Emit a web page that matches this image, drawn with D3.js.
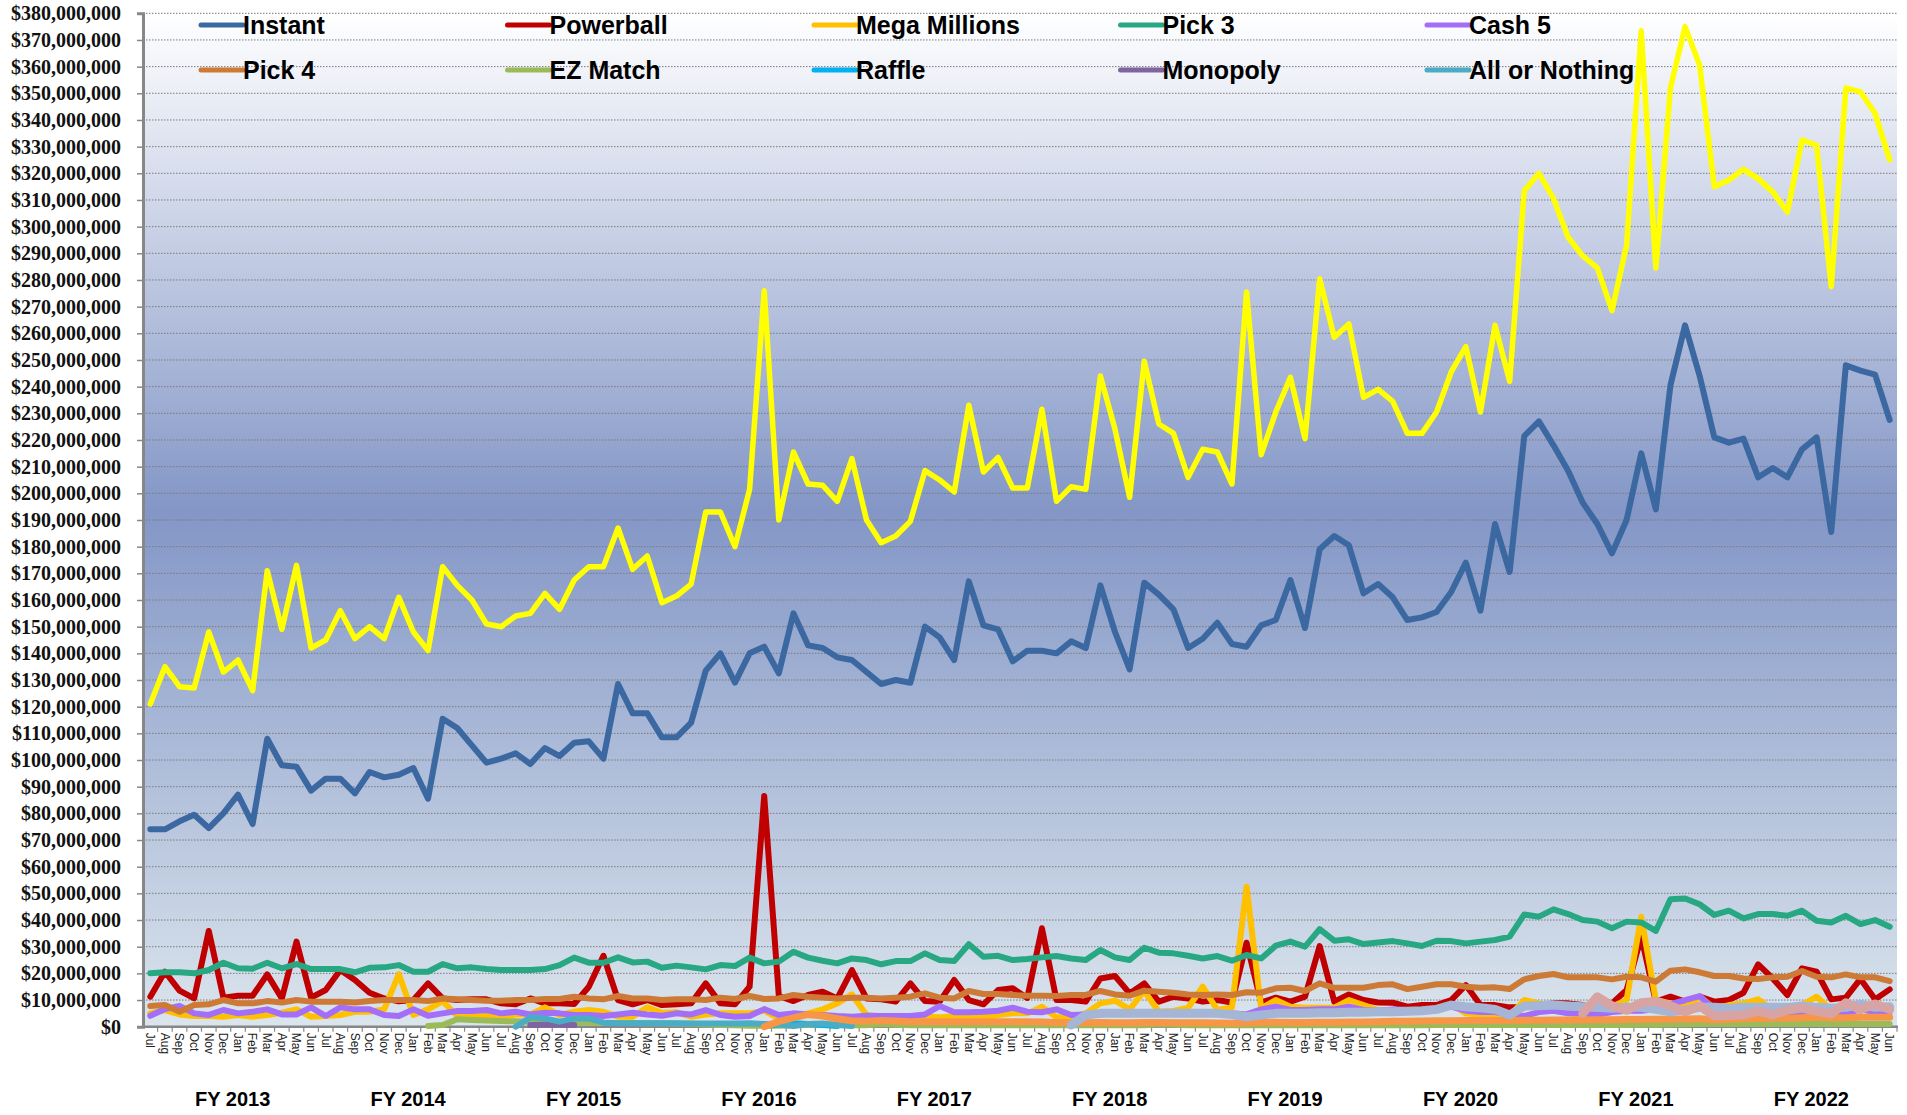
<!DOCTYPE html>
<html>
<head>
<meta charset="utf-8">
<script src="https://cdn.jsdelivr.net/npm/d3@7"></script>
<style>
  body { margin: 0; background: #fff; }
  svg { display: block; }
</style>
</head>
<body>
<script>
// --- data (values in $ millions, Jul..Jun per fiscal year) ---
var monthNames = ["Jul", "Aug", "Sep", "Oct", "Nov", "Dec", "Jan", "Feb", "Mar", "Apr", "May", "Jun"];
var fiscalYears = ["FY 2013", "FY 2014", "FY 2015", "FY 2016", "FY 2017", "FY 2018", "FY 2019", "FY 2020", "FY 2021", "FY 2022"];
var yTicks = d3.range(0, 381, 10);

var instant = [
  74, 74, 77, 79.5, 74.5, 80, 87, 76, 108, 98, 97.5, 88.5,
  93, 93, 87.5, 95.5, 93.5, 94.5, 97, 85.5, 115.5, 112, 105.5, 99,
  100.5, 102.5, 98.5, 104.5, 101.5, 106.5, 107, 100.5, 128.5, 117.5, 117.5, 108.5,
  108.5, 114, 133.5, 140, 129, 140, 142.5, 132.5, 155, 143, 142, 138.5,
  137.5, 133, 128.5, 130, 129, 150, 146, 137.5, 167, 150.5, 149, 137,
  141, 141, 140, 144.5, 142, 165.5, 148, 134, 166.5, 162, 156.5, 142,
  145.5, 151.5, 143.5, 142.5, 150.5, 152.5, 167.5, 149.5, 179, 184, 180.5, 162.5,
  166, 161, 152.5, 153.5, 155.5, 163, 174, 156, 188.5, 170.5, 221.5, 227,
  218, 208.5, 196.5, 188.5, 177.5, 190, 215, 194, 240.5, 263, 244, 221,
  219, 220.5, 206, 209.5, 206, 216.5, 221, 185.5, 248, 246, 244.5, 227.5
];
var powerball = [
  11.25, 20.6, 13.5, 10.6, 35.9, 10.9, 11.6, 11.6, 19.6, 10.6, 31.9, 10.9,
  13.75, 21.25, 17.5, 12.75, 10.6, 9.5, 10, 16.25, 10.6, 10, 10.25, 10.25,
  8.75, 8.4, 10.6, 8.75, 8.75, 8.5, 15, 26.6, 10, 8.4, 10, 8.1,
  8.4, 8.75, 16.25, 8.75, 8.4, 15, 86.5, 11.5, 9.6, 11.9, 13.1, 10.6,
  21.25, 10.6, 10.25, 9.4, 16.25, 9.6, 9.4, 17.5, 10, 8.4, 13.75, 14.4,
  10.8, 36.9, 10, 10, 9.4, 18.1, 19, 12.5, 16.25, 9.4, 11.25, 10.6,
  9.4, 10, 9.1, 31.5, 9, 10.9, 9.4, 11.25, 30.25, 9.4, 12.1, 10,
  9.1, 9, 7.5, 8.1, 8.1, 10, 15.6, 8.1, 8.1, 7.25, 7.25, 8.1,
  8.75, 8.75, 8.1, 6.9, 8.75, 13.75, 33.75, 9.4, 11.25, 9.4, 11.25, 9.4,
  10, 12.75, 23.4, 18.1, 11.9, 21.9, 20.6, 10.25, 10.9, 17.9, 10.25, 14
];
var megaMillions = [
  5, 6.25, 4.6, 4, 4, 3.75, 4.4, 3.75, 4.4, 5.25, 6.5, 3.75,
  4, 4.4, 5.6, 5.6, 6.5, 19.75, 4.4, 6.5, 9.6, 4, 4, 4,
  3.75, 4.6, 4.6, 7.25, 4.4, 5.6, 6.25, 5.6, 3.75, 3.75, 7.25, 5.25,
  5.4, 3.75, 4.6, 5, 5, 5, 6, 3.1, 4, 5, 6.5, 8.75,
  12.1, 4.4, 3.75, 3.75, 3.75, 3.75, 3.5, 4, 4, 3.75, 4.4, 5,
  5, 7.5, 3.5, 3.5, 5, 8.75, 9.75, 6.5, 13.4, 5.6, 5.9, 7.1,
  15, 6.25, 7.25, 52.5, 6.9, 10, 7.5, 7.1, 7.1, 7.1, 10, 8.1,
  6.25, 6.25, 5.9, 6.25, 6.9, 8.4, 5, 4.5, 4.5, 4, 10, 8.75,
  8.1, 5, 4.6, 5.6, 7.5, 10, 41.25, 10, 8.75, 7.5, 11.25, 6.9,
  8.1, 8.75, 10.25, 6.25, 6.25, 8.1, 11.25, 6.25, 5.6, 6.9, 6.25, 6.25
];
var pick3 = [
  20, 20.4, 20.4, 20, 21.25, 24, 21.9, 21.75, 24, 21.9, 23.5, 21.6,
  21.6, 21.6, 20.4, 22.1, 22.25, 23.1, 20.6, 20.6, 23.5, 21.9, 22.25, 21.6,
  21.25, 21.25, 21.25, 21.6, 23.1, 25.9, 24, 24, 26, 24.1, 24.4, 22.1,
  22.9, 22.25, 21.5, 23.1, 22.75, 25.9, 23.75, 24.4, 28.1, 25.9, 24.75, 23.75,
  25.6, 25, 23.4, 24.6, 24.6, 27.5, 25, 24.6, 30.9, 26.25, 26.6, 25,
  25.4, 26, 26.5, 25.6, 25, 28.75, 26, 25, 29.6, 27.75, 27.5, 26.6,
  25.6, 26.5, 24.75, 26.9, 25.6, 30.4, 31.9, 30, 36.6, 32.25, 32.75, 31,
  31.6, 32.1, 31.25, 30.25, 32.25, 32.1, 31.25, 31.9, 32.5, 33.75, 42.1, 41.25,
  44, 42.25, 40, 39.4, 36.9, 39.4, 39.1, 35.9, 47.75, 48.1, 45.9, 41.9,
  43.5, 40.6, 42.25, 42.25, 41.6, 43.5, 39.75, 39.1, 41.6, 38.5, 40, 37.5
];
var cash5 = [
  4.1, 6.6, 7.75, 5, 4.4, 6.25, 5, 5.6, 6.5, 4.6, 4.6, 7.25,
  4, 7.25, 6.5, 6.5, 4.4, 4, 6.5, 4.1, 5, 5.9, 5.9, 6.25,
  5, 5.6, 4.6, 5.25, 5, 4.4, 4.4, 4, 4.6, 5.25, 4.6, 4.1,
  5, 4.6, 6.25, 4.4, 3.75, 4, 6.6, 4.4, 5, 4.6, 4.4, 4,
  3.75, 4.1, 4, 4, 4, 4.6, 7.75, 5.4, 5.4, 5.6, 6, 7.1,
  5.6, 5.4, 6.5, 4.4, 4.6, 4.6, 5, 5, 5.2, 5, 5, 5.2,
  5, 5, 5, 4.6, 6.5, 7.5, 6.25, 6.25, 6.5, 6.5, 7.5, 6.25,
  6, 6.5, 6.25, 6, 6.9, 7.5, 6, 5.5, 5.5, 4.5, 4, 5.5,
  6, 5, 5, 4.5, 5.5, 6, 6, 6.5, 8.5, 10, 11.5, 6.5,
  6, 5.5, 5.5, 5.5, 5.5, 5.5, 5.5, 6, 5, 6.5, 5.5, 5.5
];
var pick4 = [
  7.75, 8.1, 5.6, 8.1, 8.4, 10, 8.75, 8.75, 9.6, 9.1, 10, 9.4,
  9.4, 9.4, 9.1, 9.6, 10, 10, 10, 9.6, 10.6, 10.25, 10, 9.75,
  9.75, 10, 10, 10.4, 10.4, 11.25, 10.6, 10.25, 11.5, 10.6, 10.6, 10,
  10.25, 10.25, 10, 10.9, 10.4, 11.5, 10.4, 10.6, 11.9, 11.25, 10.9, 10.6,
  10.9, 10.9, 10.6, 10.9, 11.25, 12.5, 10.9, 10.6, 13.4, 12.25, 12.25, 11.9,
  11.6, 11.6, 11.5, 11.9, 11.9, 13.4, 12.1, 11.6, 13.5, 13.1, 12.75, 12.1,
  11.9, 12.1, 11.9, 12.9, 12.75, 14.4, 14.6, 13.4, 16.25, 14.6, 14.6, 14.6,
  15.6, 15.9, 14.1, 15, 15.9, 15.9, 15, 14.6, 14.75, 14.1, 17.75, 19,
  19.75, 18.5, 18.5, 18.5, 17.75, 18.75, 18.5, 16.9, 21, 21.5, 20.4, 19,
  19, 18.1, 17.9, 18.5, 18.75, 20.9, 18.75, 18.5, 19.6, 18.5, 18.5, 17.1
];
var ezMatch = [
  null, null, null, null, null, null, null, null, null, null, null, null,
  null, null, null, null, null, null, null, 0.3, 0.6, 2.8, 2.5, 2.3,
  2.1, 2.0, 1.9, 1.8, 1.7, 1.6, 1.5, 1.5, 1.4, 1.4, 1.3, 1.3,
  1.2, 1.1, 0.8, 0.6, 0.5, 0.4, 0.4, 0.4, 0.5, 0.6, 0.7, 0.6,
  0.5, 0.5, 1.0, 0.7, 0.5, 0.5, 0.5, 0.5, 0.5, 0.5, 0.5, 0.5,
  0.5, 0.5, 0.5, 0.5, 0.5, 0.5, 0.5, 0.5, 0.5, 0.9, 0.7, 0.5,
  0.5, 0.5, 0.5, 0.5, 0.5, 0.5, 0.5, 0.5, 0.5, 0.5, 0.5, 0.5,
  0.5, 0.5, 0.5, 0.5, 0.6, 0.6, 0.6, 0.6, 0.6, 0.6, 0.6, 0.6,
  0.6, 0.6, 0.6, 0.6, 0.6, 0.6, 0.7, 0.7, 0.8, 0.9, 1.0, 1.0,
  1.0, 1.0, 1.0, 1.0, 1.0, 1.0, 1.0, 1.0, 1.0, 1.0, 1.0, 1.0
];
var raffle = [
  null, null, null, null, null, null, null, null, null, null, null, null,
  null, null, null, null, null, null, null, null, null, null, null, null,
  null, null, null, null, null, null, null, null, null, null, null, null,
  null, null, null, null, null, null, 0.3, 1.0, 1.3, 1.0, 0.6, 0.3,
  null, null, null, null, null, null, null, null, null, null, null, null,
  null, null, null, null, null, null, null, null, null, null, null, null,
  null, null, null, null, null, null, null, null, null, null, null, null,
  null, null, null, null, null, null, null, null, null, null, null, null,
  null, null, null, null, null, null, null, null, null, null, null, null,
  null, null, null, null, null, null, null, null, null, null, null, null
];
var monopoly = [
  null, null, null, null, null, null, null, null, null, null, null, null,
  null, null, null, null, null, null, null, null, null, null, null, null,
  null, null, 0.6, 0.7, 0.7, 0.6, null, null, null, null, null, null,
  null, null, null, null, null, null, null, null, null, null, null, null,
  null, null, null, null, null, null, null, null, null, null, null, null,
  null, null, null, null, null, null, null, null, null, null, null, null,
  null, null, null, null, null, null, null, null, null, null, null, null,
  null, null, null, null, null, null, null, null, null, null, null, null,
  null, null, null, null, null, null, null, null, null, null, null, null,
  null, null, null, null, null, null, null, null, null, null, null, null
];
var allOrNothing = [
  null, null, null, null, null, null, null, null, null, null, null, null,
  null, null, null, null, null, null, null, null, null, null, null, null,
  null, 0, 3.5, 3.1, 1.9, 3.1, 3.1, 1.5, 1.3, 1.3, 1.3, 1.3,
  1.3, 1.2, 1.2, 1.2, 1.2, 1.3, 1.0, 0.8, 0.3, 1.0, 1.2, 0.6,
  0.3, null, null, null, null, null, null, null, null, null, null, null,
  null, null, null, null, null, null, null, null, null, null, null, null,
  null, null, null, null, null, null, null, null, null, null, null, null,
  null, null, null, null, null, null, null, null, null, null, null, null,
  null, null, null, null, null, null, null, null, null, null, null, null,
  null, null, null, null, null, null, null, null, null, null, null, null
];
// series plotted without a legend entry
var otherA = [
  null, null, null, null, null, null, null, null, null, null, null, null,
  null, null, null, null, null, null, null, null, null, null, null, null,
  null, null, null, null, null, null, null, null, null, null, null, null,
  null, null, null, null, null, null, 0, 2.0, 3.3, 4.6, 4.0, 3.0,
  2.2, 2.0, 2.3, 2.1, 1.9, 1.9, 1.9, 1.9, 1.9, 1.9, 1.9, 1.9,
  1.9, 1.8, 1.6, 1.5, 1.5, 1.6, 1.5, 1.5, 1.6, 1.6, 1.5, 1.5,
  1.5, 1.4, 1.3, 1.5, 1.6, 1.7, 1.6, 1.6, 1.7, 1.7, 1.8, 1.8,
  1.9, 2.0, 2.0, 2.1, 2.2, 2.2, 2.3, 2.3, 2.3, 2.3, 2.4, 2.4,
  2.5, 2.5, 2.5, 2.6, 2.6, 2.7, 2.7, 2.8, 2.8, 2.9, 3.0, 2.5,
  2.8, 3.0, 3.1, 3.2, 3.2, 3.4, 3.5, 3.3, 3.4, 3.5, 3.5, 3.5
];
var otherB = [
  null, null, null, null, null, null, null, null, null, null, null, null,
  null, null, null, null, null, null, null, null, null, null, null, null,
  null, null, null, null, null, null, null, null, null, null, null, null,
  null, null, null, null, null, null, null, null, null, null, null, null,
  null, null, null, null, null, null, null, null, null, null, null, null,
  null, null, null, 0.6, 4.4, 5, 5, 5, 5, 5, 5, 5,
  5, 5, 4.6, 3.75, 4.4, 5, 5, 5, 5.2, 5.2, 5.4, 5.4,
  5.6, 5.6, 5.8, 6.0, 6.5, 8.1, 7.5, 7.1, 6.5, 4.4, 7.75, 7.9,
  8.1, 7.75, 7.5, 7.25, 6.9, 7.25, 7.25, 6.5, 5.6, 6.25, 7.25, 7.25,
  6.9, 7.25, 7.25, 7.25, 7.25, 7.75, 7.25, 6.9, 7.25, 8.4, 7.25, 7.5
];
var otherC = [
  null, null, null, null, null, null, null, null, null, null, null, null,
  null, null, null, null, null, null, null, null, null, null, null, null,
  null, null, null, null, null, null, null, null, null, null, null, null,
  null, null, null, null, null, null, null, null, null, null, null, null,
  null, null, null, null, null, null, null, null, null, null, null, null,
  null, null, null, null, null, null, null, null, null, null, null, null,
  null, null, null, null, null, null, null, null, null, null, null, null,
  null, null, null, null, null, null, null, null, null, null, null, null,
  null, null, 5, 11.2, 7.8, 6.2, 9, 9.5, 7.8, 5.6, 7.8, 4,
  4.2, 4.4, 5.8, 4.4, 6.2, 7, 5.8, 4.8, 9, 6.4, 8.5, 6.5
];
var total = [
  121, 135, 127.5, 127, 148, 133, 137.5, 126, 171, 149, 173, 142,
  145, 156, 145.5, 150, 145.5, 161, 148, 141, 172.5, 165.5, 160, 151,
  150, 154, 155, 162.5, 156.5, 167.5, 172.5, 172.5, 187, 171.5, 176.5, 159,
  161.5, 166, 193, 193, 180, 201.5, 276, 190, 215.5, 203.5, 203, 197,
  213, 190, 181.5, 184, 189.5, 208.5, 205, 200.5, 233, 208, 213.5, 202,
  202, 231.5, 197, 202.5, 201.5, 244, 224, 198.5, 249.5, 226, 222.5, 206,
  216.5, 215.5, 203.5, 275.5, 214.5, 230.5, 243.5, 220.5, 280.5, 258.5, 263.5, 236,
  239, 234.5, 222.5, 222.5, 230.5, 245.5, 255, 230.5, 263, 242, 313.5, 320,
  310.5, 296, 289, 284.5, 268.5, 293, 373.5, 284.5, 352, 375, 360.5, 315,
  317.5, 321.5, 318, 313, 305.5, 332.5, 330.5, 277.5, 352, 350.5, 342.5, 325
];

var series = [
  {name: "Instant", values: instant, color: "#3c68a1", width: 6, legend: true},
  {name: "Powerball", values: powerball, color: "#c00000", width: 6, legend: true},
  {name: "Mega Millions", values: megaMillions, color: "#ffc000", width: 6, legend: true},
  {name: "Pick 3", values: pick3, color: "#27a883", width: 6, legend: true},
  {name: "Cash 5", values: cash5, color: "#a46ff8", width: 6, legend: true},
  {name: "Pick 4", values: pick4, color: "#cc7a35", width: 6, legend: true},
  {name: "EZ Match", values: ezMatch, color: "#9bbb59", width: 6, legend: true},
  {name: "Raffle", values: raffle, color: "#00b0f0", width: 6, legend: true},
  {name: "Monopoly", values: monopoly, color: "#8064a2", width: 6, legend: true},
  {name: "All or Nothing", values: allOrNothing, color: "#4bacc6", width: 6, legend: true},
  {name: "Other A", values: otherA, color: "#f79646", width: 7, legend: false},
  {name: "Other B", values: otherB, color: "#a5b5d6", width: 9, legend: false},
  {name: "Other C", values: otherC, color: "#d7a3a3", width: 9, legend: false},
  {name: "Total", values: total, color: "#ffff00", width: 5.5, legend: false}
];

// --- layout ---
var W = 1907, H = 1115;
var plotLeft = 143, plotRight = 1897, plotTop = 13.3, plotBottom = 1026.7;

var categories = [];
fiscalYears.forEach(function(fy) {
  monthNames.forEach(function(m) { categories.push(fy + " " + m); });
});

var svg = d3.select("body").append("svg")
  .attr("width", W)
  .attr("height", H);

var x = d3.scaleBand().domain(categories).range([plotLeft, plotRight]).padding(0);
var y = d3.scaleLinear().domain([0, 380]).range([plotBottom, plotTop]);

// plot background gradient
var grad = svg.append("defs").append("linearGradient")
  .attr("id", "bg")
  .attr("gradientUnits", "userSpaceOnUse")
  .attr("x1", 0).attr("x2", 0)
  .attr("y1", plotTop).attr("y2", plotBottom);
grad.append("stop").attr("offset", "0").attr("stop-color", "#ffffff");
grad.append("stop").attr("offset", "0.49").attr("stop-color", "#8396c6");
grad.append("stop").attr("offset", "1").attr("stop-color", "#dbe5ed");

svg.append("rect")
  .attr("x", plotLeft).attr("y", plotTop)
  .attr("width", plotRight - plotLeft).attr("height", plotBottom - plotTop)
  .attr("fill", "url(#bg)");

// gridlines
svg.append("g")
  .selectAll("line")
  .data(yTicks.filter(function(d) { return d > 0; }))
  .join("line")
  .attr("x1", plotLeft).attr("x2", plotRight)
  .attr("y1", function(d) { return y(d); })
  .attr("y2", function(d) { return y(d); })
  .attr("stroke", "#7a7a7a")
  .attr("stroke-width", 1)
  .attr("stroke-dasharray", "1.5,1.5");

// y axis
var yAxis = svg.append("g")
  .attr("transform", "translate(" + plotLeft + ",0)")
  .call(d3.axisLeft(y).tickValues(yTicks).tickSize(6).tickPadding(16)
    .tickFormat(function(d) { return "$" + d3.format(",")(d * 1e6); }));
yAxis.select(".domain").attr("stroke", "#878787").attr("stroke-width", 3);
yAxis.selectAll(".tick line").attr("stroke", "#878787").attr("stroke-width", 1.5);
yAxis.selectAll(".tick text")
  .attr("fill", "#111")
  .style("font-family", "'Liberation Serif', 'Times New Roman', serif")
  .style("font-weight", "bold")
  .style("font-size", "20px");

// x axis: ticks between months
var xg = svg.append("g");
xg.append("line")
  .attr("x1", plotLeft).attr("x2", plotRight + 1)
  .attr("y1", plotBottom).attr("y2", plotBottom)
  .attr("stroke", "#878787").attr("stroke-width", 2.5);
xg.selectAll("line.tk")
  .data(categories)
  .join("line")
  .attr("class", "tk")
  .attr("x1", function(d) { return x(d) + x.bandwidth(); })
  .attr("x2", function(d) { return x(d) + x.bandwidth(); })
  .attr("y1", plotBottom).attr("y2", plotBottom + 5)
  .attr("stroke", "#878787").attr("stroke-width", 1.2);
xg.selectAll("text.mo")
  .data(categories)
  .join("text")
  .attr("class", "mo")
  .attr("transform", function(d) {
    return "translate(" + (x(d) + x.bandwidth() / 2) + "," + (plotBottom + 6) + ") rotate(90)";
  })
  .attr("dy", "0.35em")
  .attr("text-anchor", "start")
  .style("font-family", "'Liberation Sans Narrow', 'Arial Narrow', sans-serif")
  .style("font-size", "12px")
  .attr("fill", "#222")
  .text(function(d) { return d.slice(-3); });

// fiscal year labels
svg.append("g")
  .selectAll("text")
  .data(fiscalYears)
  .join("text")
  .attr("x", function(d) { return x(d + " " + monthNames[0]) + x.bandwidth() * 6 + 2; })
  .attr("y", 1106)
  .attr("text-anchor", "middle")
  .style("font-family", "'Liberation Sans', Arial, sans-serif")
  .style("font-weight", "bold")
  .style("font-size", "20px")
  .attr("fill", "#000")
  .text(function(d) { return d; });

// lines
var line = d3.line()
  .defined(function(d) { return d.v !== null; })
  .x(function(d) { return x(d.c) + x.bandwidth() / 2; })
  .y(function(d) { return y(d.v); });

svg.append("g")
  .selectAll("path")
  .data(series)
  .join("path")
  .attr("fill", "none")
  .attr("stroke", function(s) { return s.color; })
  .attr("stroke-width", function(s) { return s.width; })
  .attr("stroke-linejoin", "round")
  .attr("stroke-linecap", "round")
  .attr("d", function(s) {
    return line(s.values.map(function(v, i) { return {c: categories[i], v: v}; }));
  });

// legend
var legendItems = series.filter(function(s) { return s.legend; });
var lg = svg.append("g")
  .selectAll("g")
  .data(legendItems)
  .join("g")
  .attr("transform", function(d, i) {
    return "translate(" + (201 + (i % 5) * 306.5) + "," + (i < 5 ? 25 : 70) + ")";
  });
lg.append("line")
  .attr("x1", 0).attr("x2", 42)
  .attr("y1", 0).attr("y2", 0)
  .attr("stroke", function(d) { return d.color; })
  .attr("stroke-width", 5)
  .attr("stroke-linecap", "round");
lg.append("text")
  .attr("x", 42)
  .attr("dy", "0.35em")
  .style("font-family", "'Liberation Sans', Arial, sans-serif")
  .style("font-weight", "bold")
  .style("font-size", "25px")
  .attr("fill", "#000")
  .text(function(d) { return d.name; });
</script>
</body>
</html>
